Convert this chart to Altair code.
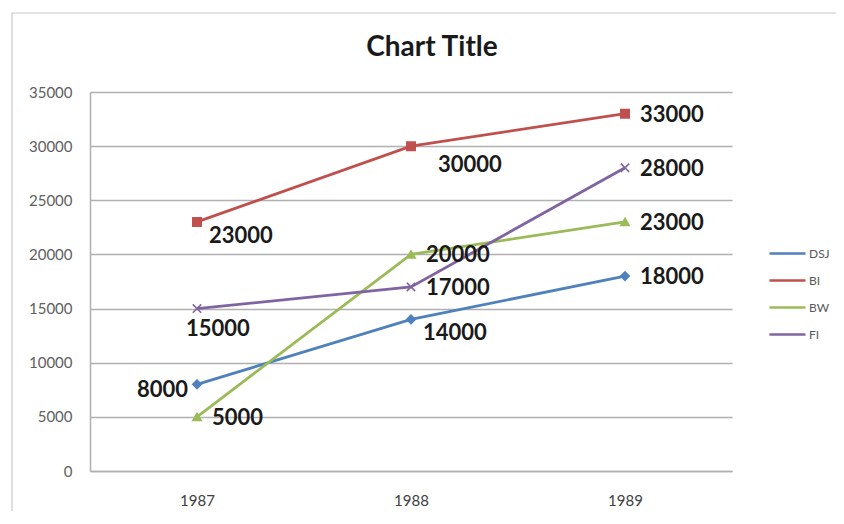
import altair as alt
import pandas as pd

years = ["1987", "1988", "1989"]
series = ["DSJ", "BI", "BW", "FI"]
dsj = [8000, 14000, 18000]
bi = [23000, 30000, 33000]
bw = [5000, 20000, 23000]
fi = [15000, 17000, 28000]
values = {"DSJ": dsj, "BI": bi, "BW": bw, "FI": fi}

# where each data label sits relative to its point
label_place = {
    "DSJ": ["left", "below_right", "right"],
    "BI": ["below_right", "below_far", "right"],
    "BW": ["right", "right", "right"],
    "FI": ["below", "right", "right"],
}

colors = ["#4f81bd", "#c0504d", "#9bbb59", "#8064a2"]
marker_shapes = ["diamond", "square", "triangle-up", "M-1,-1L1,1M-1,1L1,-1"]

rows = []
for s in series:
    for i, y in enumerate(years):
        rows.append({"year": y, "series": s, "value": values[s][i],
                     "place": label_place[s][i]})
df = pd.DataFrame(rows)

x_enc = alt.X("year:O", scale=alt.Scale(type="point", padding=0.5, domain=years),
              axis=alt.Axis(title=None, labelAngle=0, ticks=False, domainColor="#b0b0b0",
                            domainWidth=1.5, labelPadding=22, labelFont="Lato",
                            labelFontSize=15, labelColor="#404040", grid=False))
y_enc = alt.Y("value:Q", scale=alt.Scale(domain=[0, 35000], nice=False),
              axis=alt.Axis(title=None, values=list(range(0, 35001, 5000)), ticks=False,
                            format="d",
                            domainColor="#b0b0b0", domainWidth=1.5, gridColor="#b0b0b0",
                            gridWidth=1.3, labelPadding=18, labelFont="Lato",
                            labelFontSize=15, labelColor="#606060"))

color_scale = alt.Scale(domain=series, range=colors)

base = alt.Chart(df)

lines = base.mark_line(strokeWidth=2.8).encode(
    x=x_enc, y=y_enc,
    color=alt.Color("series:N", scale=color_scale,
                    legend=alt.Legend(title=None, orient="none", legendX=678, legendY=142,
                                      padding=0, symbolSize=1300, rowPadding=1,
                                      symbolType="M-1,0L1,0",
                                      labelFont="Lato", labelFontSize=12,
                                      labelColor="#595959", labelOffset=2,
                                      symbolStrokeWidth=2.5)),
    detail="series:N",
)

point_layers = []
for s, c, shp in zip(series, colors, marker_shapes):
    point_layers.append(
        base.transform_filter(alt.datum.series == s).mark_point(
            shape=shp, filled=True, size=70, strokeWidth=1.6, opacity=1,
            fill=c, stroke=c
        ).encode(x=x_enc, y=y_enc)
    )

place_cfg = {
    "right": dict(align="left", dx=15, dy=1),
    "below_right": dict(align="left", dx=12, dy=14),
    "below_far": dict(align="left", dx=27, dy=19),
    "below": dict(align="left", dx=-11, dy=20),
    "left": dict(align="right", dx=-9, dy=6),
}
texts = []
for p, cfg in place_cfg.items():
    texts.append(
        base.transform_filter(alt.datum.place == p).mark_text(
            font="Lato", fontSize=22, fontWeight="bold", color="#1a1a1a",
            baseline="middle", **cfg
        ).encode(x=x_enc, y=y_enc, text=alt.Text("value:Q", format="d"))
    )

border = alt.Chart(pd.DataFrame({"k": [0]})).mark_rect(
    fill=None, stroke="#c8c8c8", strokeWidth=1.2, clip=False
).encode(x=alt.value(-78), x2=alt.value(800), y=alt.value(-79), y2=alt.value(480))

chart = alt.layer(border, lines, *point_layers, *texts).properties(
    width=642, height=379,
    title=alt.TitleParams("Chart Title", font="Lato", fontSize=28, fontWeight="bold",
                          color="#1a1a1a", anchor="middle", dx=21, offset=-50),
    autosize=alt.AutoSizeParams(type="none"),
    padding={"left": 82, "top": 84, "right": 104, "bottom": 40},
).configure_view(stroke=None)

chart.save("out.html", embed_options={"renderer": "svg", "actions": False})
